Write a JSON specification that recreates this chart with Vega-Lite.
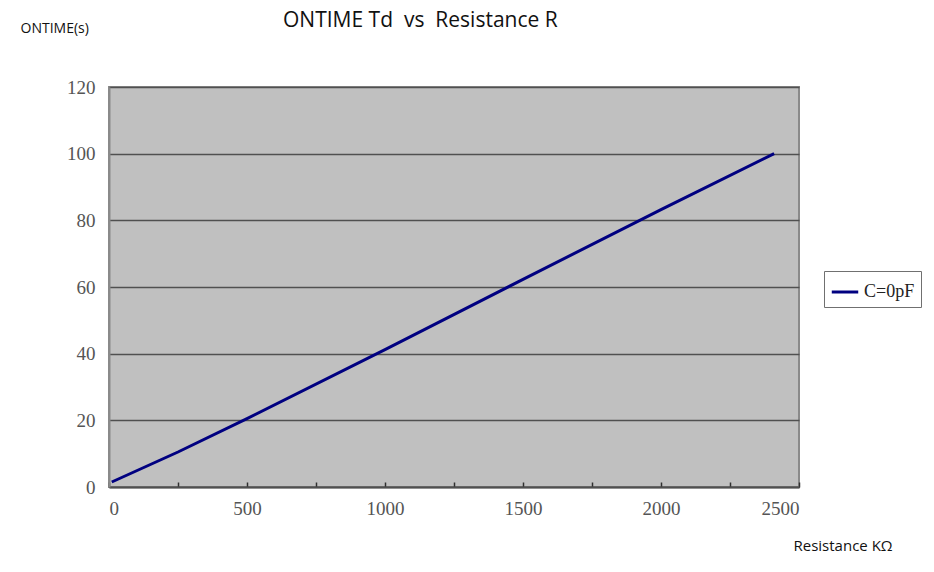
{
  "$schema": "https://vega.github.io/schema/vega-lite/v6.json",
  "autosize": "none",
  "width": 690,
  "height": 400,
  "padding": {"left": 109, "top": 87, "right": 135, "bottom": 85},
  "background": "white",
  "title": {
    "text": "ONTIME Td \u00a0vs \u00a0Resistance R",
    "anchor": "start",
    "dx": 263,
    "offset": -10,
    "font": "Open Sans",
    "fontSize": 21,
    "fontWeight": "normal",
    "color": "#111111"
  },
  "config": {
    "view": {"fill": "#c0c0c0", "stroke": "#8a8a8a", "strokeWidth": 2},
    "axis": {
      "labelFont": "Liberation Serif",
      "labelFontSize": 19,
      "labelColor": "#555555",
      "gridColor": "#505050",
      "gridWidth": 1.6,
      "domainColor": "#505050",
      "domainWidth": 2
    }
  },
  "data": {
    "values": [
      {"R": 10, "T": 1.5, "series": "C=0pF"},
      {"R": 250, "T": 10.5, "series": "C=0pF"},
      {"R": 500, "T": 20.5, "series": "C=0pF"},
      {"R": 1000, "T": 41.2, "series": "C=0pF"},
      {"R": 1500, "T": 62.3, "series": "C=0pF"},
      {"R": 2000, "T": 83.2, "series": "C=0pF"},
      {"R": 2410, "T": 100, "series": "C=0pF"}
    ]
  },
  "mark": {"type": "line", "strokeWidth": 3, "interpolate": "linear"},
  "encoding": {
    "x": {
      "field": "R",
      "type": "quantitative",
      "scale": {"domain": [0, 2500], "nice": false, "zero": true},
      "axis": {
        "values": [0, 250, 500, 750, 1000, 1250, 1500, 1750, 2000, 2250, 2500],
        "labelExpr": "datum.value % 500 == 0 ? datum.label : ''",
        "format": "d",
        "grid": false,
        "ticks": true,
        "tickSize": -5,
        "tickColor": "#303030",
        "tickWidth": 1.5,
        "labelPadding": 17,
        "title": "Resistance KΩ",
        "titleFont": "Open Sans",
        "titleFontSize": 15,
        "titleFontWeight": "normal",
        "titleColor": "#111111",
        "titleAnchor": "start",
        "titleAlign": "left",
        "titleX": 684,
        "titleY": 58,
        "titleBaseline": "middle"
      }
    },
    "y": {
      "field": "T",
      "type": "quantitative",
      "scale": {"domain": [0, 120], "nice": false},
      "axis": {
        "values": [0, 20, 40, 60, 80, 100, 120],
        "grid": true,
        "ticks": false,
        "labelPadding": 14,
        "domainColor": "#8a8a8a",
        "title": "ONTIME(s)",
        "titleFont": "Open Sans",
        "titleFontSize": 14,
        "titleFontWeight": "normal",
        "titleColor": "#111111",
        "titleAngle": 0,
        "titleAlign": "left",
        "titleBaseline": "middle",
        "titleX": -89,
        "titleY": -59
      }
    },
    "color": {
      "field": "series",
      "type": "nominal",
      "scale": {"range": ["#000080"]},
      "legend": {
        "title": null,
        "orient": "none",
        "legendX": 715,
        "legendY": 184,
        "symbolType": "stroke",
        "symbolStrokeWidth": 3,
        "symbolSize": 700,
        "labelFont": "Liberation Serif",
        "labelFontSize": 18,
        "labelColor": "#222222",
        "strokeColor": "#707070",
        "fillColor": "white",
        "padding": 6
      }
    }
  }
}
